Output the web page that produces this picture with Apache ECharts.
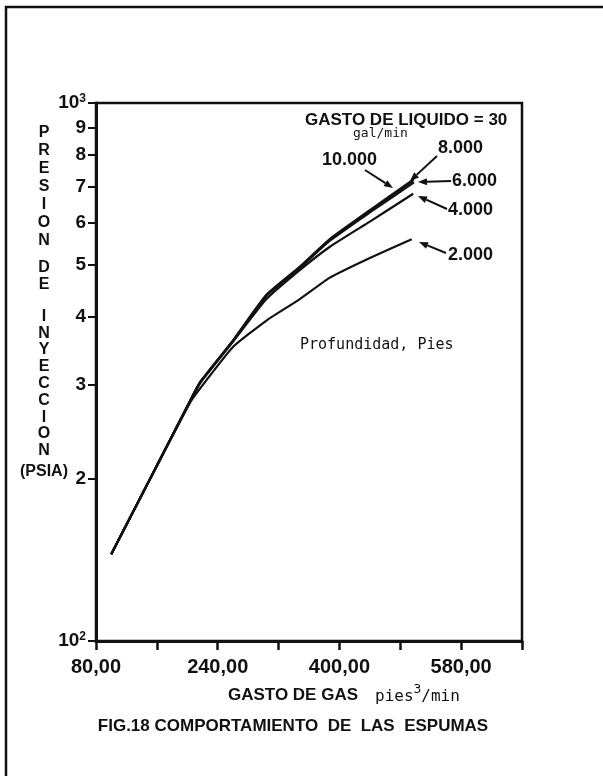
<!DOCTYPE html>
<html><head><meta charset="utf-8">
<script src="https://cdn.jsdelivr.net/npm/echarts@6/dist/echarts.min.js"></script>
<style>html,body{margin:0;padding:0;background:#fff}#c{width:603px;height:776px}</style>
</head><body><div id="c"></div>
<script>
// ---- data ----
const depthNames = ['10.000', '8.000', '6.000', '4.000', '2.000'];
const gas10000 = [100, 151, 204, 217, 260, 304, 347, 387, 440, 498];
const psi10000 = [145, 200, 280, 303, 362, 440, 495, 558, 632, 722];
const gas8000  = [100, 151, 204, 217, 260, 304, 347, 387, 440, 497];
const psi8000  = [145, 200, 280, 303, 361, 439, 494, 556, 629, 718];
const gas6000  = [100, 151, 204, 217, 260, 304, 347, 387, 440, 498];
const psi6000  = [145, 200, 280, 302, 361, 438, 492, 554, 626, 712];
const gas4000  = [100, 151, 204, 217, 260, 304, 347, 387, 440, 497];
const psi4000  = [145, 200, 280, 302, 360, 432, 488, 540, 602, 678];
const gas2000  = [100, 151, 204, 217, 260, 305, 347, 387, 440, 495];
const psi2000  = [145, 200, 278, 295, 352, 395, 431, 473, 515, 558];
const xTickValues = [80, 160, 240, 320, 400, 480, 560, 640];
const xTickLabels = ['80,00', '', '240,00', '', '400,00', '', '580,00', ''];
const yTickValues = [100, 200, 300, 400, 500, 600, 700, 800, 900, 1000];
const yTickLabels = ['10²', '2', '3', '4', '5', '6', '7', '8', '9', '10³'];

const INK = '#111';
const FAM = '"Liberation Sans", Arial, sans-serif';
const bf = s => 'bold ' + s + 'px ' + FAM;
const MONO = s => s + 'px "DejaVu Sans Mono", monospace';
const SUP = { '²': '2', '³': '3' };

function pairs(xs, ys) { return xs.map((x, i) => [x, ys[i]]); }
const seriesData = [
  pairs(gas10000, psi10000), pairs(gas8000, psi8000), pairs(gas6000, psi6000),
  pairs(gas4000, psi4000), pairs(gas2000, psi2000)
];

function arrow(x1, y1, x2, y2) {
  const dx = x2 - x1, dy = y2 - y1, len = Math.hypot(dx, dy);
  const ux = dx / len, uy = dy / len, nx = -uy, ny = ux;
  const L = 9, W = 3.5;
  const bx = x2 - L * ux, by = y2 - L * uy;
  return [
    { type: 'line', shape: { x1: x1, y1: y1, x2: bx, y2: by }, style: { stroke: INK, lineWidth: 2 }, z: 10 },
    { type: 'polygon', shape: { points: [[x2, y2], [bx + W * nx, by + W * ny], [bx - W * nx, by - W * ny]] }, style: { fill: INK }, z: 10 }
  ];
}
function txt(x, y, text, font, align) {
  return { type: 'text', x: x, y: y, z: 10, style: { text: text, font: font, fill: INK, textAlign: align || 'left', textVerticalAlign: 'middle' } };
}
function vtxt(x, y, letters, lh) {
  return { type: 'text', x: x, y: y, z: 10, style: { text: letters.split('').join('\n'), font: bf(16), fill: INK, textAlign: 'center', textVerticalAlign: 'top', lineHeight: lh } };
}

const graphics = [
  { type: 'polyline', shape: { points: [[6, 776], [6, 7], [603, 7]] }, style: { stroke: INK, lineWidth: 2.5, fill: null } },
  vtxt(44, 124, 'PRESION', 18),
  vtxt(44, 259, 'DE', 17),
  vtxt(44, 308, 'INYECCION', 16.8),
  txt(20, 472, '(PSIA)', bf(16)),
  txt(305, 120, 'GASTO DE LIQUIDO = 30', bf(17)),
  txt(353, 134, 'gal/min', MONO(13)),
  txt(322, 160, depthNames[0], bf(18)),
  txt(438, 148, depthNames[1], bf(18)),
  txt(452, 181, depthNames[2], bf(18)),
  txt(448, 210, depthNames[3], bf(18)),
  txt(448, 255, depthNames[4], bf(18)),
  txt(300, 345, 'Profundidad, Pies', MONO(15)),
  txt(293, 695, 'GASTO DE GAS', bf(17), 'center'),
  { type: 'text', x: 375, y: 697, z: 10, style: { text: '{m|pies}{s|3}{m|/min}', fill: INK, textAlign: 'left', textVerticalAlign: 'middle',
      rich: { m: { font: MONO(16), fill: INK, lineHeight: 18 }, s: { font: MONO(13), fill: INK, verticalAlign: 'top', lineHeight: 28 } } } },
  txt(293, 726, 'FIG.18 COMPORTAMIENTO  DE  LAS  ESPUMAS', bf(17), 'center')
].concat(
  arrow(365, 170, 393, 188),
  arrow(437, 156, 410, 181),
  arrow(451, 181, 418, 182),
  arrow(447, 209, 418, 196),
  arrow(446, 253, 419, 242)
);

const chart = echarts.init(document.getElementById('c'), null, { renderer: 'canvas' });
chart.setOption({
  animation: false,
  backgroundColor: '#fff',
  grid: { left: 96, right: 81, top: 103, bottom: 135, show: true, borderColor: INK, borderWidth: 2.5, backgroundColor: 'transparent' },
  xAxis: {
    type: 'value', min: 80, max: 640, interval: 80,
    axisLine: { show: true, lineStyle: { color: INK, width: 3 } },
    axisTick: { show: true, inside: false, length: 9, lineStyle: { color: INK, width: 2.5 } },
    axisLabel: { show: true, margin: 16, interval: 0, hideOverlap: false, color: INK,
      fontSize: 20, fontWeight: 'bold', fontFamily: FAM,
      formatter: v => { const i = xTickValues.indexOf(Math.round(v)); return i >= 0 ? xTickLabels[i] : ''; } },
    splitLine: { show: false }
  },
  yAxis: {
    type: 'log', logBase: 10, min: 100, max: 1000,
    axisLine: { show: true, lineStyle: { color: INK, width: 3 } },
    axisTick: { show: true, inside: false, length: 8, customValues: yTickValues, lineStyle: { color: INK, width: 2 } },
    axisLabel: { show: true, margin: 10, color: INK, customValues: yTickValues, hideOverlap: false,
      fontSize: 19, fontWeight: 'bold', fontFamily: FAM,
      rich: {
        b: { fontSize: 19, fontWeight: 'bold', fontFamily: FAM, color: INK },
        s: { fontSize: 12, fontWeight: 'bold', fontFamily: FAM, color: INK, verticalAlign: 'top', padding: [0, 0, 8, 0] }
      },
      formatter: v => {
        const i = yTickValues.indexOf(Math.round(v));
        if (i < 0) return '';
        const lab = yTickLabels[i];
        if (lab.length === 3 && SUP[lab[2]]) return '{b|' + lab.slice(0, 2) + '}{s|' + SUP[lab[2]] + '}';
        return lab;
      } },
    splitLine: { show: false }, minorTick: { show: false }
  },
  series: seriesData.map((d, i) => ({
    name: depthNames[i], type: 'line', data: d, showSymbol: false, symbol: 'none',
    lineStyle: { color: INK, width: 2.2 }, smooth: 0.15, z: 5
  })),
  graphic: graphics
});
</script></body></html>
